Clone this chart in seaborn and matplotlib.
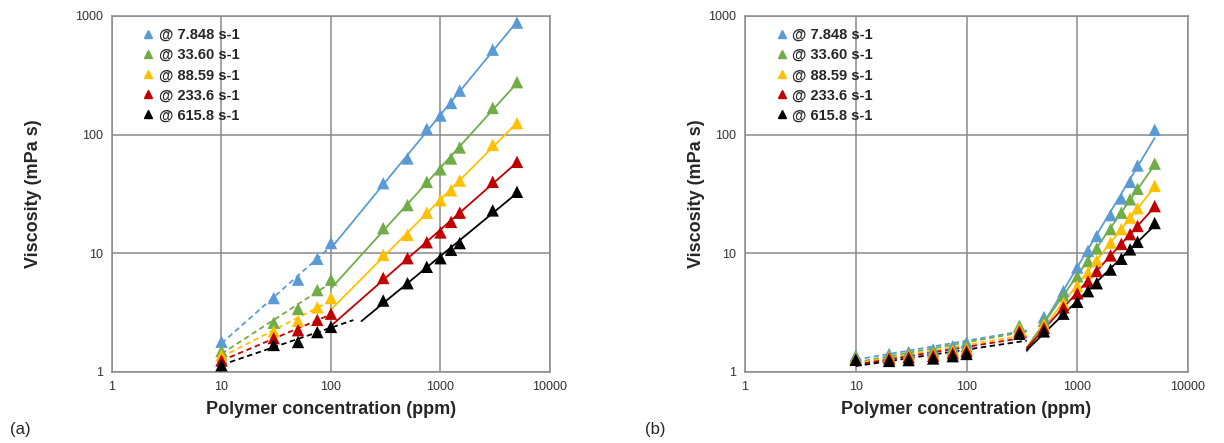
import numpy as np
import pandas as pd
import matplotlib
matplotlib.use("Agg")
import matplotlib.pyplot as plt
import seaborn as sns

# --------------------------------------------------------------------------------
# data
rates = ["@ 7.848 s-1", "@ 33.60 s-1", "@ 88.59 s-1", "@ 233.6 s-1", "@ 615.8 s-1"]
colors = ["#5B9BD5", "#70AD47", "#FFC000", "#C00000", "#000000"]

# (a)
conc_a_low = [10, 30, 50, 75, 100]
conc_a_high = [300, 500, 750, 1000, 1250, 1500, 3000, 5000]
visc_a_low = [
    [1.8, 4.2, 6.0, 9.0, 12.2],
    [1.5, 2.6, 3.4, 4.9, 6.0],
    [1.38, 2.2, 2.7, 3.5, 4.2],
    [1.25, 1.93, 2.25, 2.75, 3.1],
    [1.14, 1.69, 1.79, 2.17, 2.4],
]
visc_a_high = [
    [39, 63, 112, 145, 185, 235, 520, 880],
    [16.3, 25.5, 40, 51, 63, 78, 168, 277],
    [9.7, 14.3, 22, 28, 34, 41, 82, 125],
    [6.2, 9.1, 12.4, 15, 18.4, 22, 40, 59],
    [4.0, 5.6, 7.7, 9.1, 10.7, 12.2, 23, 33],
]

# (b)
conc_b_low = [10, 20, 30, 50, 75, 100, 300]
conc_b_high = [500, 750, 1000, 1250, 1500, 2000, 2500, 3000, 3500, 5000]
visc_b_low = [
    [1.38, 1.42, 1.47, 1.55, 1.65, 1.78, 2.4],
    [1.33, 1.37, 1.42, 1.48, 1.56, 1.65, 2.45],
    [1.30, 1.33, 1.37, 1.42, 1.50, 1.56, 2.3],
    [1.27, 1.30, 1.33, 1.37, 1.44, 1.50, 2.2],
    [1.27, 1.24, 1.26, 1.30, 1.36, 1.42, 2.1],
]
visc_b_high = [
    [2.9, 4.8, 7.6, 10.5, 14, 21, 29, 40, 55, 110],
    [2.7, 4.4, 6.4, 8.6, 11, 16, 22, 28.5, 35, 57],
    [2.5, 3.8, 5.3, 6.9, 8.7, 12.3, 16, 20, 24, 37],
    [2.35, 3.5, 4.6, 5.8, 7.1, 9.6, 12, 14.5, 17, 25],
    [2.2, 3.1, 3.9, 4.8, 5.6, 7.3, 9.0, 10.8, 12.5, 18],
]

# trendline spans (ppm)
span_a_low = [100, 100, 100, 100, 160]
span_a_high = [100, 100, 100, 100, 190]
span_b_split = 350


def long_df(conc_lo, vis_lo, conc_hi, vis_hi):
    rows = []
    for r, lo, hi in zip(rates, vis_lo, vis_hi):
        for c, v in zip(conc_lo, lo):
            rows.append({"rate": r, "conc": c, "visc": v, "part": "low"})
        for c, v in zip(conc_hi, hi):
            rows.append({"rate": r, "conc": c, "visc": v, "part": "high"})
    return pd.DataFrame(rows)


def trend(g, x0, x1):
    p = np.polyfit(np.log10(g["conc"]), np.log10(g["visc"]), 1)
    xs = np.geomspace(x0, x1, 40)
    return pd.DataFrame({"conc": xs, "visc": 10 ** np.polyval(p, np.log10(xs))})


sns.set_style("white")
plt.rcParams["font.family"] = ["Liberation Sans", "DejaVu Sans"]

fig = plt.figure(figsize=(12.24, 4.43), dpi=100)
ax_a = fig.add_axes([0.0915, 0.1603, 0.3578, 0.8036])
ax_b = fig.add_axes([0.6087, 0.1603, 0.3619, 0.8036])

df_a = long_df(conc_a_low, visc_a_low, conc_a_high, visc_a_high)
df_b = long_df(conc_b_low, visc_b_low, conc_b_high, visc_b_high)

for i, (r, col) in enumerate(zip(rates, colors)):
    ga = df_a[df_a["rate"] == r]
    lo = trend(ga[ga["part"] == "low"], 10, span_a_low[i])
    hi = trend(ga[ga["part"] == "high"], span_a_high[i], 5000)
    sns.lineplot(data=lo, x="conc", y="visc", ax=ax_a, color=col, lw=1.3,
                 linestyle=(0, (3, 2)), sort=False)
    sns.lineplot(data=hi, x="conc", y="visc", ax=ax_a, color=col, lw=1.3, sort=False)

    gb = df_b[df_b["rate"] == r]
    lo = trend(gb[gb["part"] == "low"], 10, span_b_split)
    hi = trend(gb[gb["part"] == "high"], span_b_split, 5000)
    sns.lineplot(data=lo, x="conc", y="visc", ax=ax_b, color=col, lw=1.3,
                 linestyle=(0, (3, 2)), sort=False)
    sns.lineplot(data=hi, x="conc", y="visc", ax=ax_b, color=col, lw=1.3, sort=False)

for ax, df, pad in [(ax_a, df_a, 24), (ax_b, df_b, 2)]:
    sns.scatterplot(data=df, x="conc", y="visc", hue="rate", palette=colors,
                    hue_order=rates, marker="^", s=80, edgecolor="none",
                    ax=ax, legend=False, zorder=3)
    ax.set_xscale("log")
    ax.set_yscale("log")
    ax.set_xlim(1, 10000)
    ax.set_ylim(1, 1000)
    ax.set_xticks([1, 10, 100, 1000, 10000], ["1", "10", "100", "1000", "10000"])
    ax.set_yticks([1, 10, 100, 1000], ["1", "10", "100", "1000"])
    ax.minorticks_off()
    ax.grid(True, color="#8a8a8a", lw=1.1)
    for s in ax.spines.values():
        s.set_color("#8a8a8a")
        s.set_linewidth(1.1)
    ax.tick_params(axis="both", labelsize=9, colors="#8a8a8a", labelcolor="#333333",
                   length=3, width=1)
    ax.set_xlabel("Polymer concentration (ppm)", fontsize=13, fontweight="bold", labelpad=6)
    ax.set_ylabel("Viscosity (mPa s)", fontsize=13, fontweight="bold", labelpad=pad)

    handles = [plt.Line2D([], [], marker="^", ls="", color=c, markersize=6) for c in colors]
    ax.legend(handles, rates, loc="upper left", bbox_to_anchor=(0.04, 0.995), frameon=False,
              handletextpad=0.1, labelspacing=0.42, borderaxespad=0.3, handlelength=1.2,
              prop={"weight": "bold", "size": 10.5})

fig.text(0.008, 0.02, "(a)", fontsize=12)
fig.text(0.527, 0.02, "(b)", fontsize=12)

fig.savefig("out.png", dpi=100)
